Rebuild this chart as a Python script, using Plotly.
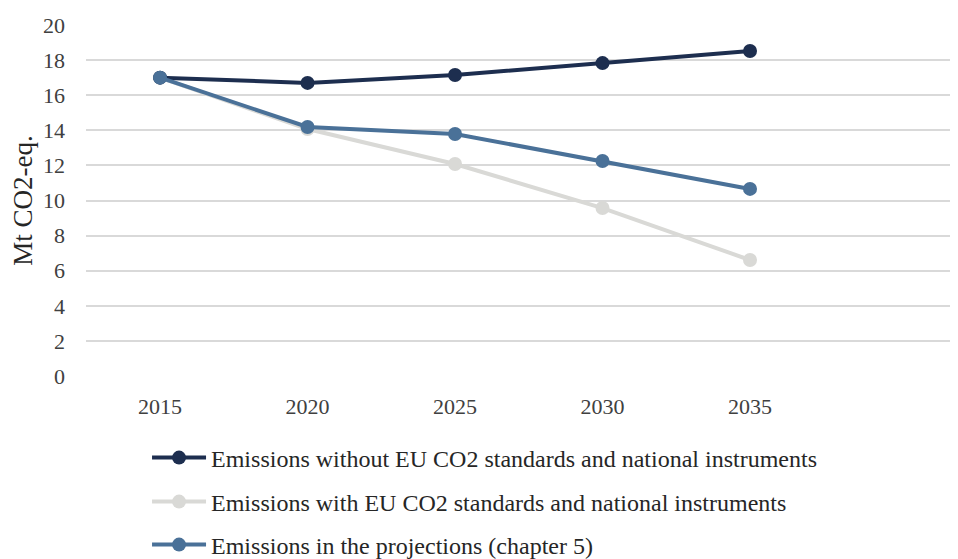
import plotly.graph_objects as go

years = [2015, 2020, 2025, 2030, 2035]
without_eu = [17.0, 16.7, 17.15, 17.83, 18.52]
with_eu = [17.0, 14.07, 12.08, 9.57, 6.61]
projections = [17.0, 14.19, 13.79, 12.25, 10.66]

names = [
    "Emissions without EU CO2 standards and national instruments",
    "Emissions with EU CO2 standards and national instruments",
    "Emissions in the projections (chapter 5)",
]
colors = ["#1d2e4f", "#d9d9d6", "#4a7198"]
series = [without_eu, with_eu, projections]
order = [1, 0, 2]  # draw order: gray bottom, then dark, then blue on top
legend_ids = ["legend", "legend2", "legend3"]

FONT = "Liberation Serif"
W, H = 950, 551  # page body adds an 8px margin
legend_y = [450, 494, 537]

fig = go.Figure()
for i in order:
    fig.add_trace(go.Scatter(
        x=years, y=series[i], name=names[i], mode="lines+markers",
        line=dict(color=colors[i], width=4),
        marker=dict(color=colors[i], size=14),
        legend=legend_ids[i], showlegend=True,
    ))

legends = {}
for k, lid in enumerate(legend_ids):
    legends[lid] = dict(
        x=0.07, xref="paper",
        y=1 - legend_y[k] / H, yref="container", yanchor="middle",
        xanchor="left", orientation="h",
        font=dict(family=FONT, size=24, color="#262626"),
        bgcolor="rgba(0,0,0,0)", itemwidth=54,
    )

fig.update_layout(
    width=W, height=H,
    margin=dict(l=78, r=0, t=17, b=183, autoexpand=False),
    paper_bgcolor="white", plot_bgcolor="white",
    font=dict(family=FONT, size=22, color="#404040"),
    xaxis=dict(range=[2012.49, 2042.05], tickvals=years, ticktext=[str(y) for y in years],
               showgrid=False, zeroline=False, showline=False, ticks="",
               tickfont=dict(family=FONT, size=22, color="#404040"), ticklabelstandoff=15),
    yaxis=dict(range=[0, 20], dtick=2, showgrid=True, gridcolor="#d9d9d9", gridwidth=1.5,
               zeroline=False, showline=False, ticks="",
               tickfont=dict(family=FONT, size=22, color="#404040"), ticklabelstandoff=20,
               title=dict(text="Mt CO2-eq.", font=dict(family=FONT, size=27, color="#262626"), standoff=2)),
    **legends,
)

fig.write_html("out.html")
